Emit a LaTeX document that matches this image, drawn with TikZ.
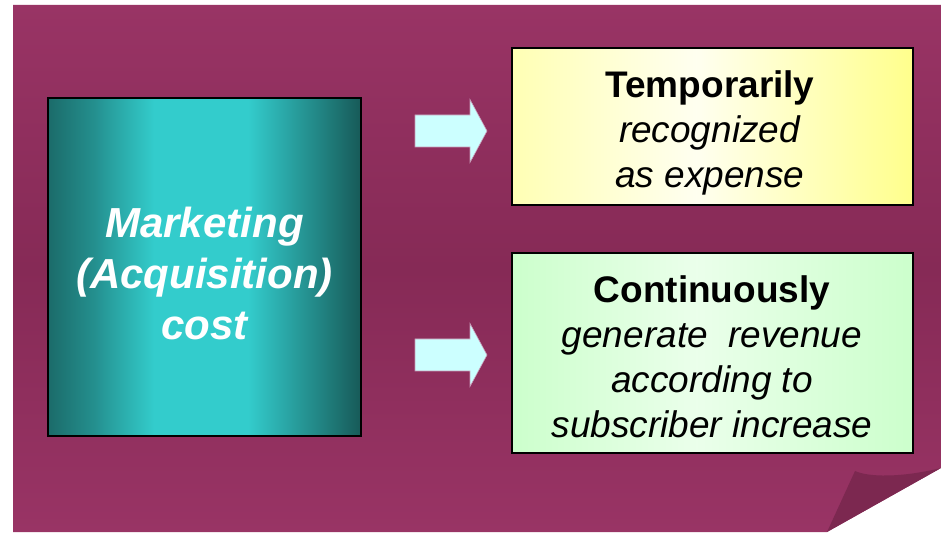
\documentclass[tikz,border=0pt]{standalone}
\usepackage{fontspec}
\setmainfont{Liberation Sans}
\definecolor{pagetop}{HTML}{993465}
\definecolor{pagemid}{HTML}{862A56}
\definecolor{foldcol}{HTML}{7C2850}
\definecolor{tealdark}{HTML}{175A58}
\definecolor{teallight}{HTML}{33CCCC}
\definecolor{yel1}{HTML}{FFFFB4}
\definecolor{yel2}{HTML}{FFFF8C}
\definecolor{grn}{HTML}{CCFFCC}
\definecolor{arrowfill}{HTML}{CCFFFF}
\definecolor{arrowedge}{HTML}{C89CB8}
\pgfdeclarehorizontalshading{tealshade}{100bp}{color(0bp)=(tealdark); color(25bp)=(tealdark!85!teallight); color(32bp)=(tealdark!55!teallight); color(42bp)=(teallight); color(57bp)=(teallight); color(67bp)=(tealdark!55!teallight); color(75bp)=(tealdark); color(100bp)=(tealdark)}
\pgfdeclarehorizontalshading{yelshade}{100bp}{color(0bp)=(yel1); color(25bp)=(yel1); color(48bp)=(white!94!yellow); color(75bp)=(yel2); color(100bp)=(yel2)}
\pgfdeclarehorizontalshading{grnshade}{100bp}{color(0bp)=(grn); color(25bp)=(grn); color(48bp)=(white!92!green); color(75bp)=(grn); color(100bp)=(grn)}
\begin{document}
\begin{tikzpicture}[x=1pt,y=1pt,
  boxline/.style={draw=black,line width=2pt},
  blockarrow/.style={fill=arrowfill,draw=arrowedge,line width=0.6pt},
  lefttext/.style={text=white,font=\fontsize{42}{51}\selectfont\bfseries\itshape,align=center},
  righttext/.style={text=black,font=\fontsize{37}{45}\selectfont,align=center}]
\useasboundingbox (0,0) rectangle (941,532);
\fill[white] (0,0) rectangle (941,532);
% page with curled corner
\shade[top color=pagetop,bottom color=pagetop,middle color=pagemid]
  (13,0) -- (13,527) -- (941,527) -- (941,64) -- (827,0) -- cycle;
\fill[foldcol] (827,0) -- (855,61) .. controls (868,55) and (900,54) .. (941,64) -- cycle;
% left box
\shade[shading=tealshade] (48,96) rectangle (361,434);
\draw[boxline] (48,96) rectangle (361,434);
\node[lefttext] (mkt) at (204.5,259) {Marketing\\(Acquisition)\\cost};
% top right box
\shade[shading=yelshade] (512,327) rectangle (913,484);
\draw[boxline] (512,327) rectangle (913,484);
\node[righttext] (temp) at (710,399) {\textbf{Temporarily}\\\textit{recognized}\\\textit{as expense}};
% bottom right box
\shade[shading=grnshade] (512,79) rectangle (913,279);
\draw[boxline] (512,79) rectangle (913,279);
\node[righttext] (cont) at (712,175.5) {\textbf{Continuously}\\\textit{generate\ \ revenue}\\\textit{according to}\\\textit{subscriber increase}};
% block arrows
\coordinate (a1) at (415,401);
\coordinate (a2) at (415,177);
\foreach \c in {a1,a2}{
  \draw[blockarrow] ([yshift=-16]\c) -- ++(55,0) -- ++(0,-15.5) -- ([xshift=72]\c) -- ([xshift=55,yshift=31.5]\c) -- ++(0,-15.5) -- ([yshift=16]\c) -- cycle;
}
\end{tikzpicture}
\end{document}
